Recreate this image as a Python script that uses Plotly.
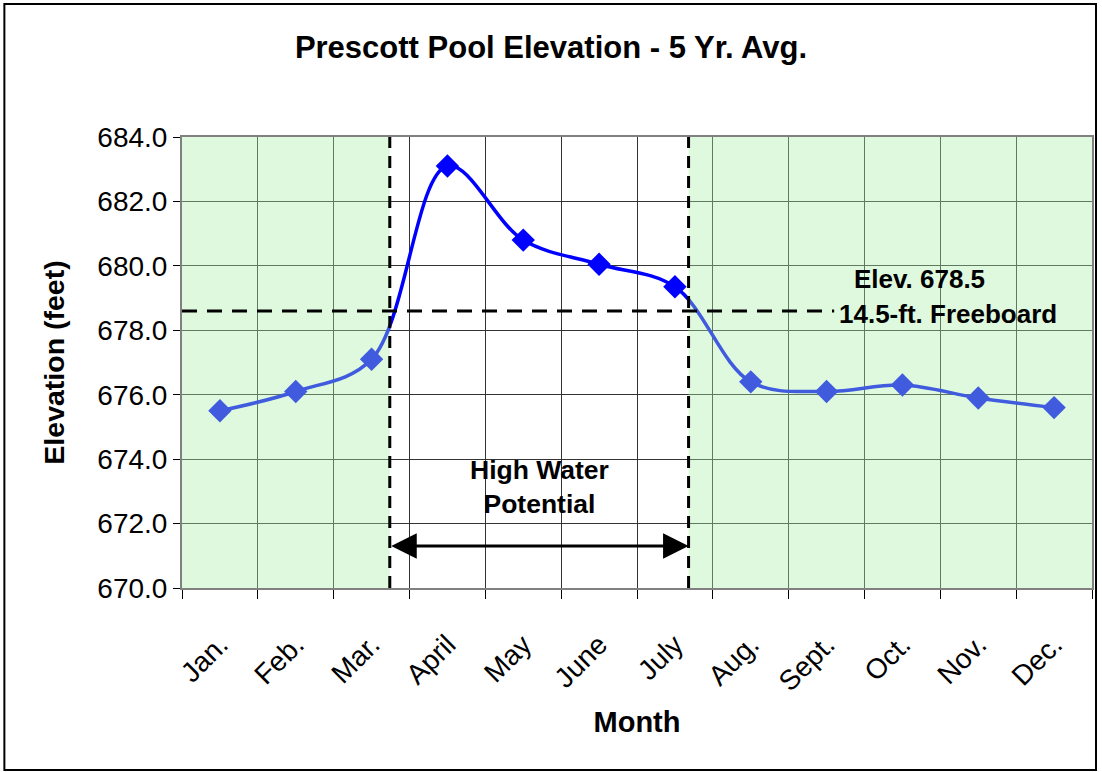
import plotly.graph_objects as go

months = ["Jan.", "Feb.", "Mar.", "April", "May", "June", "July", "Aug.", "Sept.", "Oct.", "Nov.", "Dec."]
elev = [675.5, 676.1, 677.1, 683.1, 680.8, 680.05, 679.35, 676.4, 676.1, 676.3, 675.9, 675.6]
x_pos = [i + 0.5 for i in range(12)]
boundaries = list(range(13))
high_start, high_end = 2.74, 6.68
freeboard_elev = 678.6
y_ticks = [670, 672, 674, 676, 678, 680, 682, 684]

FONT = "Liberation Sans, Arial, sans-serif"

fig = go.Figure()
fig.add_trace(go.Scatter(
    x=x_pos, y=elev, mode="lines+markers",
    line=dict(color="#0000FF", width=3.5, shape="spline", smoothing=1),
    marker=dict(symbol="diamond", size=18, color="#0000FF"),
    showlegend=False, hoverinfo="skip"))

shapes = []
# green shaded (low water) regions drawn over the data, semi-transparent
for x0, x1 in [(0, high_start), (high_end, 12)]:
    shapes.append(dict(type="rect", xref="x", yref="y", x0=x0, x1=x1, y0=670, y1=684,
                       fillcolor="#a8eea8", opacity=0.38, line=dict(width=0), layer="above"))
# vertical dashed lines
for xv in [high_start, high_end]:
    shapes.append(dict(type="line", xref="x", yref="y", x0=xv, x1=xv, y0=670, y1=684,
                       line=dict(color="black", width=3, dash="12px,8px"), layer="above"))
# horizontal freeboard line
shapes.append(dict(type="line", xref="x", yref="y", x0=0, x1=8.6, y0=freeboard_elev, y1=freeboard_elev,
                   line=dict(color="black", width=3, dash="15px,10px"), layer="above"))
# outer chart border
shapes.append(dict(type="rect", xref="paper", yref="paper", x0=-0.1952, x1=1.0044, y0=-0.4035, y1=1.2949,
                   line=dict(color="black", width=2), fillcolor="rgba(0,0,0,0)", layer="above"))

annotations = [
    dict(x=high_end, y=671.3, ax=high_start, ay=671.3, xref="x", yref="y", axref="x", ayref="y",
         text="", showarrow=True, arrowside="end+start", arrowhead=2, arrowsize=1.7, arrowwidth=3,
         arrowcolor="black", standoff=0, startstandoff=0),
    dict(x=4.71, y=673.15, xref="x", yref="y", text="<b>High Water<br>Potential</b>", showarrow=False,
         font=dict(family=FONT, size=26.5, color="black"), align="center"),
    dict(x=(921 - 182) / 76, y=679.6, xref="x", yref="y", text="<b>Elev. 678.5</b>", showarrow=False,
         font=dict(family=FONT, size=26, color="black")),
    dict(x=(950 - 182) / 76, y=678.5, xref="x", yref="y", text="<b>14.5-ft. Freeboard</b>", showarrow=False,
         font=dict(family=FONT, size=26, color="black")),
]

fig.update_layout(
    width=1102, height=772, autosize=False,
    margin=dict(l=182, r=8, t=137, b=184),
    paper_bgcolor="white", plot_bgcolor="white",
    title=dict(text="<b>Prescott Pool Elevation - 5 Yr. Avg.</b>", x=0.5, xanchor="center",
               y=1 - 47 / 772, yanchor="middle", font=dict(family=FONT, size=31, color="black")),
    xaxis=dict(range=[0, 12], tickvals=x_pos, ticktext=months, tickangle=-45, ticks="",
               showgrid=False, zeroline=False, showline=True, linecolor="#808080", linewidth=2, mirror=True,
               tickfont=dict(family=FONT, size=28, color="black"), ticklabelstandoff=27,
               minor=dict(tickvals=boundaries, ticks="outside", ticklen=9, tickcolor="black", tickwidth=1,
                          showgrid=True, gridcolor="#333333", gridwidth=1),
               title=dict(text="<b>Month</b>", font=dict(family=FONT, size=29, color="black"), standoff=16)),
    yaxis=dict(range=[670, 684], tickvals=y_ticks, tickformat=".1f", ticks="outside", ticklen=7,
               tickcolor="black", showgrid=True, gridcolor="#333333", gridwidth=1, zeroline=False,
               showline=True, linecolor="#808080", linewidth=2, mirror=True,
               tickfont=dict(family=FONT, size=28, color="black"),
               title=dict(text="<b>Elevation (feet)</b>", font=dict(family=FONT, size=28.5, color="black"), standoff=24)),
    shapes=shapes, annotations=annotations,
)

fig.write_html("out.html", post_script="document.body.style.margin='0';",
               config={"displayModeBar": False})
